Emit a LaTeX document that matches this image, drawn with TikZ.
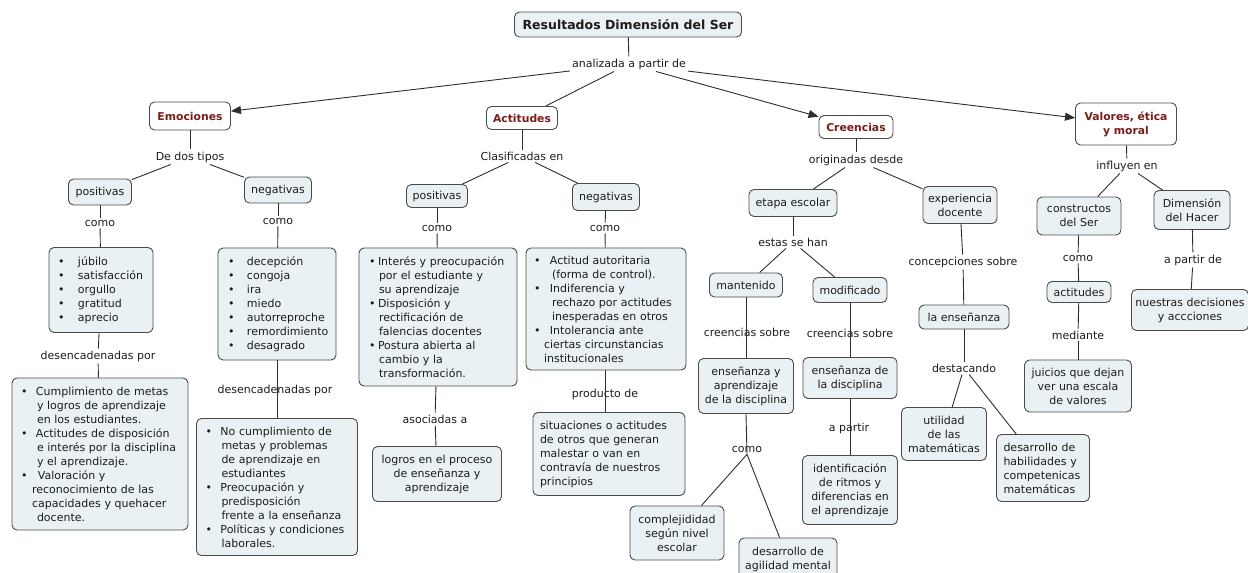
\documentclass[tikz,border=0pt]{standalone}
\usepackage{fontspec}
\setmainfont{DejaVu Sans}
\usetikzlibrary{arrows.meta}
\definecolor{boxfill}{HTML}{EAF1F4}
\definecolor{boxline}{HTML}{4A4A4A}
\definecolor{concept}{HTML}{7A1C1C}
\definecolor{linkc}{HTML}{2E2E2E}
\definecolor{txt}{HTML}{1C1C1C}
\newcommand{\bu}[1]{\makebox[#1][l]{•}}
\begin{document}
\begin{tikzpicture}[x=1pt,y=-1pt,
  font=\fontsize{11}{14}\selectfont, text=txt,
  box/.style 2 args={draw=boxline,fill=boxfill,rounded corners=5pt,line width=0.9pt,
     inner sep=0pt,align=center,minimum width=#1,minimum height=#2},
  cbox/.style 2 args={box={#1}{#2},fill=white,text=concept,font=\bfseries\fontsize{10.8}{14}\selectfont},
  lbox/.style n args={3}{draw=boxline,fill=boxfill,rounded corners=5pt,line width=0.9pt,
     inner ysep=0pt,inner xsep=#1,align=left,text width=#2,minimum height=#3},
  lab/.style={inner sep=2pt},
  link/.style={draw=linkc,line width=0.9pt},
  arr/.style={link,-{Triangle[length=10pt,width=8pt]}}]
\useasboundingbox (0,0) rectangle (1248,573);

% title and main concepts
\node[box={227pt}{25pt},font=\bfseries\fontsize{12.5}{15}\selectfont] (title) at (628,24.5) {Resultados Dimensión del Ser};
\node[lab] (analiz) at (629,64) {analizada a partir de};
\node[cbox={81pt}{28pt}] (emo) at (190,116) {Emociones};
\node[cbox={71pt}{23pt}] (act) at (522,118) {Actitudes};
\node[cbox={74pt}{23pt}] (cre) at (856,127) {Creencias};
\node[cbox={101pt}{42pt}] (val) at (1126,124) {Valores, ética\\ y moral};

\draw[link] (title) -- (analiz);
\draw[arr] (analiz) -- (emo);
\draw[link] (analiz) -- (act);
\draw[arr] (analiz) -- (cre);
\draw[arr] (analiz) -- (val);

% ---------- Emociones
\node[lab] (dedos) at (190,157) {De dos tipos};
\node[box={63pt}{26pt}] (epos) at (100,192) {positivas};
\node[box={67pt}{26pt}] (eneg) at (278,190) {negativas};
\node[lab] (como1) at (100,223) {como};
\node[lab] (como2) at (278,221) {como};
\node[lbox={9pt}{86pt}{85pt}] (eposl) at (101,290)
 {\bu{20pt}júbilo\\\bu{20pt}satisfacción\\\bu{20pt}orgullo\\\bu{20pt}gratitud\\\bu{20pt}aprecio};
\node[lab] (desen1) at (98,356) {desencadenadas por};
\node[lbox={9pt}{158pt}{152pt}] (eposc) at (100,454)
 {\bu{15pt}Cumplimiento de metas\\\hspace*{16pt}y logros de aprendizaje\\\hspace*{16pt}en los estudiantes.\\
  \bu{15pt}Actitudes de disposición\\\hspace*{16pt}e interés por la disciplina\\\hspace*{16pt}y el aprendizaje.\\
  \bu{17pt}Valoración y\\\hspace*{11pt}reconocimiento de las\\\hspace*{11pt}capacidades y quehacer\\\hspace*{16pt}docente.};
\node[lbox={10pt}{98pt}{112pt}] (enegl) at (277,304)
 {\bu{19pt}decepción\\\bu{19pt}congoja\\\bu{19pt}ira\\\bu{19pt}miedo\\\bu{19pt}autorreproche\\\bu{19pt}remordimiento\\\bu{19pt}desagrado};
\node[lab] (desen2) at (275,390) {desencadenadas por};
\node[lbox={9pt}{143pt}{137pt}] (enegc) at (277,487)
 {\bu{15pt}No cumplimiento de\\\hspace*{16pt}metas y problemas\\\hspace*{16pt}de aprendizaje en\\\hspace*{16pt}estudiantes\\
  \bu{15pt}Preocupación y\\\hspace*{16pt}predisposición\\\hspace*{16pt}frente a la enseñanza\\
  \bu{15pt}Políticas y condiciones\\\hspace*{16pt}laborales.};

\draw[link] (emo) -- (dedos);
\draw[link] (dedos) -- (epos);
\draw[link] (dedos) -- (eneg);
\draw[link] (epos) -- (como1);
\draw[link] (como1) -- (eposl);
\draw[link] (eneg) -- (como2);
\draw[link] (como2) -- (enegl);
\draw[link] (eposl) -- (desen1);
\draw[link] (desen1) -- (eposc);
\draw[link] (enegl) -- (enegc);

% ---------- Actitudes
\node[lab] (clasif) at (522,156) {Clasificadas en};
\node[box={61pt}{23pt}] (apos) at (437,196) {positivas};
\node[box={67pt}{27pt}] (aneg) at (606,197) {negativas};
\node[lab] (como3) at (437,228) {como};
\node[lab] (como4) at (605,228) {como};
\node[lbox={10pt}{138pt}{138pt}] (aposl) at (438,317)
 {\mbox{\bu{9pt}Interés y preocupación}\\\hspace*{10pt}por el estudiante y\\\hspace*{10pt}su aprendizaje\\
  \bu{9pt}Disposición y\\\hspace*{10pt}rectificación de\\\hspace*{10pt}falencias docentes\\
  \bu{9pt}Postura abierta al\\\hspace*{10pt}cambio y la\\\hspace*{10pt}transformación.};
\node[lab] (asoc) at (435,419) {asociadas a};
\node[box={129pt}{55pt}] (logros) at (437,474) {logros en el proceso\\de enseñanza y\\aprendizaje};
\node[lbox={8pt}{144pt}{122pt}] (anegl) at (606,309)
 {\bu{16pt}Actitud autoritaria\\\hspace*{18pt}(forma de control).\\
  \bu{16pt}Indiferencia y\\\hspace*{18pt}rechazo por actitudes\\\hspace*{18pt}inesperadas en otros\\
  \bu{16pt}Intolerancia ante\\\hspace*{10pt}ciertas circunstancias\\\hspace*{10pt}institucionales};
\node[lab] (prod) at (605,394) {producto de};
\node[lbox={7pt}{138pt}{83pt}] (situ) at (609,454)
 {situaciones o actitudes\\de otros que generan\\malestar o van en\\contravía de nuestros\\principios};

\draw[link] (act) -- (clasif);
\draw[link] (clasif) -- (apos);
\draw[link] (clasif) -- (aneg);
\draw[link] (apos) -- (como3);
\draw[link] (como3) -- (aposl);
\draw[link] (aneg) -- (como4);
\draw[link] (como4) -- (anegl);
\draw[link] (aposl) -- (asoc);
\draw[link] (asoc) -- (logros);
\draw[link] (anegl.south -| prod) -- (situ.north -| prod);

% ---------- Creencias
\node[lab] (orig) at (856,160) {originadas desde};
\node[box={88pt}{27pt}] (etapa) at (793,203) {etapa escolar};
\node[box={74pt}{37pt}] (exper) at (960,205) {experiencia\\docente};
\node[lab] (estas) at (793,242) {estas se han};
\node[box={73pt}{24pt}] (mant) at (746,285) {mantenido};
\node[box={74pt}{25pt}] (modif) at (850,290) {modificado};
\node[lab] (cs1) at (747,332) {creencias sobre};
\node[lab] (cs2) at (850,333) {creencias sobre};
\node[box={95pt}{55pt}] (eya) at (746,386) {enseñanza y\\aprendizaje\\de la disciplina};
\node[box={94pt}{41pt}] (edld) at (850,378) {enseñanza de\\la disciplina};
\node[lab] (como5) at (747,449) {como};
\node[box={94pt}{54pt}] (compl) at (677,533) {complejididad\\según nivel\\escolar};
\node[box={98pt}{42pt}] (desag) at (788,559) {desarrollo de\\agilidad mental};
\node[lab] (apart) at (849,428) {a partir};
\node[box={95pt}{69pt}] (ident) at (850,490) {identificación\\de ritmos y\\diferencias en\\el aprendizaje};
\node[lab] (concep) at (963,262) {concepciones sobre};
\node[box={90pt}{24pt}] (laens) at (964,317) {la enseñanza};
\node[lab] (destac) at (964,368) {destacando};
\node[box={85pt}{53pt}] (util) at (944,434) {utilidad\\de las\\matemáticas};
\node[lbox={7pt}{79pt}{67pt}] (deshab) at (1043,468) {desarrollo de\\habilidades y\\competenicas\\matemáticas};

\draw[link] (cre) -- (orig);
\draw[link] (orig) -- (etapa);
\draw[link] (orig) -- (exper);
\draw[link] (etapa) -- (estas);
\draw[link] (estas) -- (mant);
\draw[link] (estas) -- (modif);
\draw[link] (mant) -- (eya);
\draw[link] (modif) -- (edld);
\draw[link] (eya.south) -- (como5.south);
\draw[link] (como5.south) -- (compl);
\draw[link] (como5.south) -- (desag);
\draw[link] (edld) -- (ident);
\draw[link] (exper) -- (concep);
\draw[link] (concep) -- (laens);
\draw[link] (laens) -- (destac);
\draw[link] (destac) -- (util);
\draw[link] (destac) -- (deshab);

% ---------- Valores
\node[lab] (influ) at (1127,166) {influyen en};
\node[box={84pt}{38pt}] (constr) at (1079,216) {constructos\\del Ser};
\node[box={76pt}{39pt}] (dimh) at (1192,210) {Dimensión\\del Hacer};
\node[lab] (como6) at (1078,258) {como};
\node[box={64pt}{21pt}] (actit) at (1079,292) {actitudes};
\node[lab] (medi) at (1078,335) {mediante};
\node[box={107pt}{52pt}] (juic) at (1078,386) {juicios que dejan\\ver una escala\\de valores};
\node[lab] (apde) at (1193,260) {a partir de};
\node[box={117pt}{41pt}] (nues) at (1190,310) {nuestras decisiones\\y accciones};

\draw[link] (val) -- (influ);
\draw[link] (influ) -- (constr);
\draw[link] (influ) -- (dimh);
\draw[link] (constr) -- (como6);
\draw[link] (como6) -- (actit);
\draw[link] (actit) -- (medi);
\draw[link] (medi) -- (juic);
\draw[link] (dimh) -- (apde);
\draw[link] (apde) -- (nues);
\end{tikzpicture}
\end{document}
